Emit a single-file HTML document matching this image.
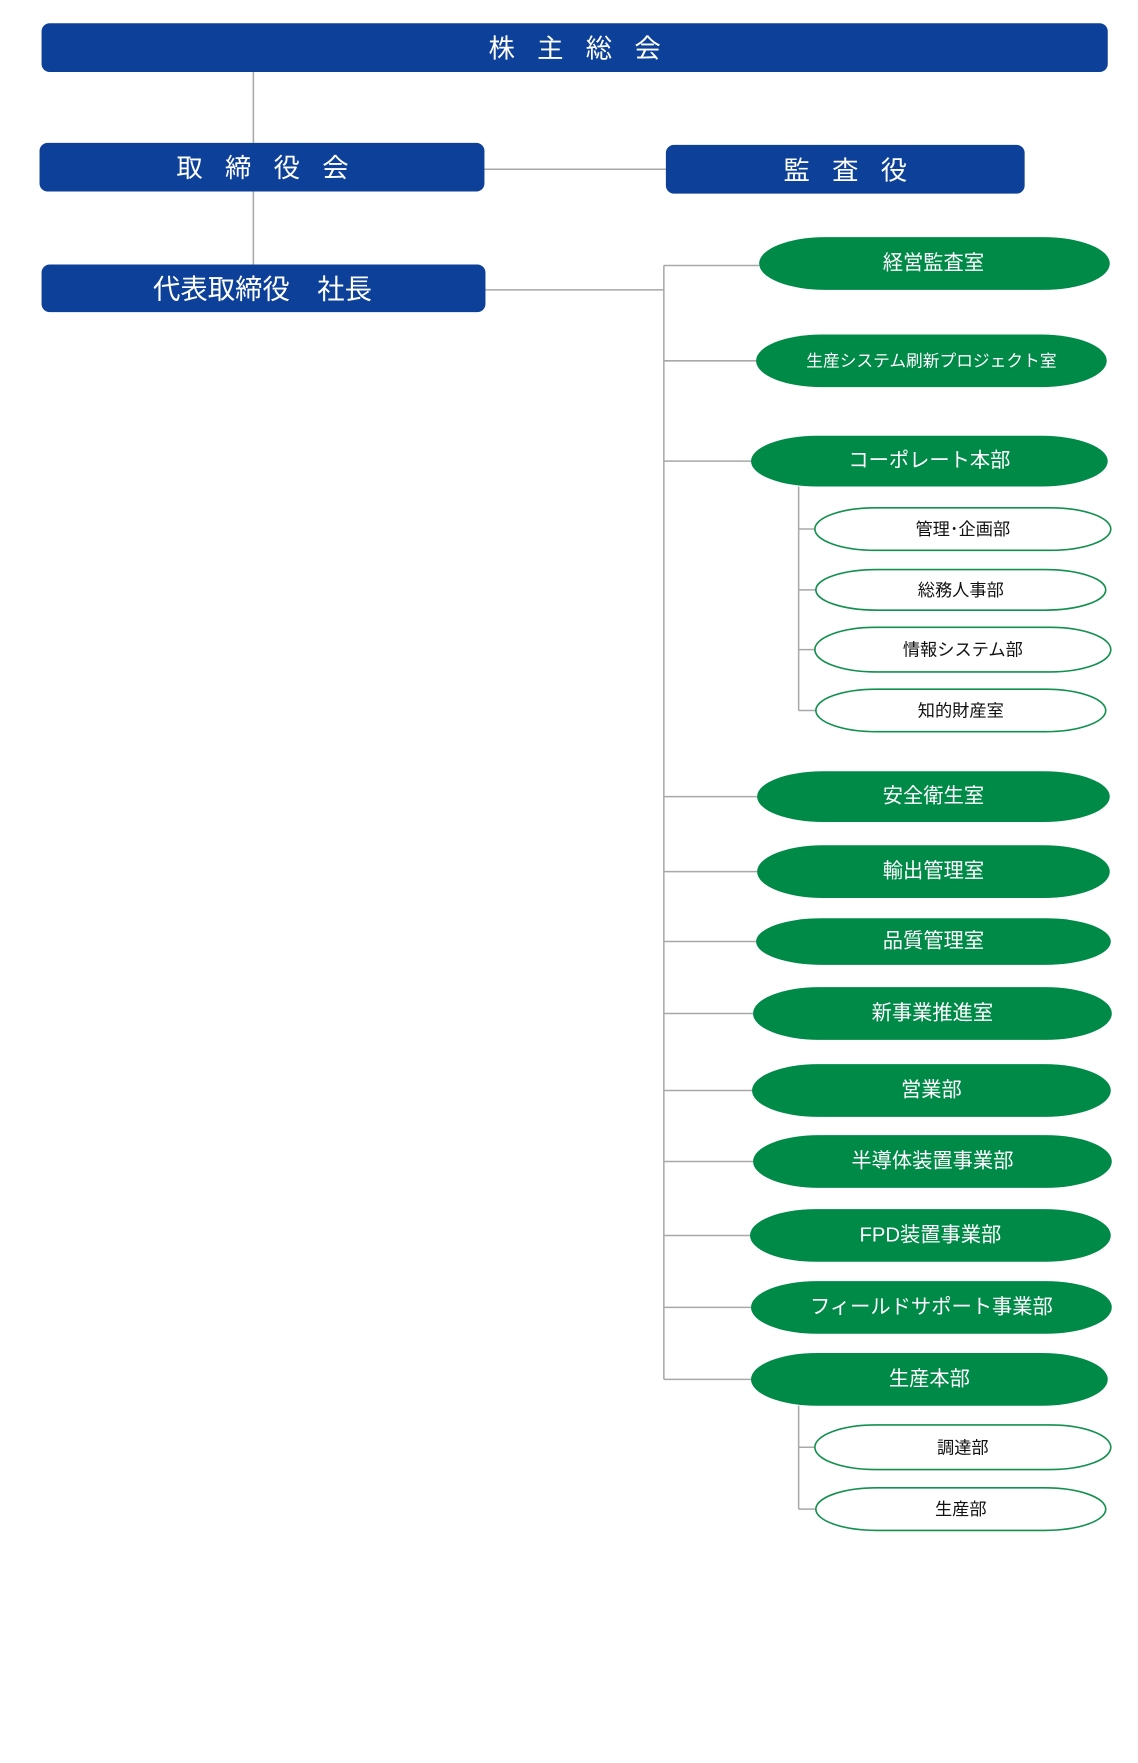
<!DOCTYPE html>
<html><head><meta charset="utf-8"><style>
html,body{margin:0;padding:0;background:#fff;}
svg{display:block;}
text{font-family:"Liberation Sans","Noto Sans CJK JP",sans-serif;text-anchor:middle;dominant-baseline:central;}
.b{fill:#0d4098;}
.g{fill:#008a48;}
.s{fill:#fff;stroke:#13904f;stroke-width:1.6;}
.wt{fill:#fff;}
.gt{fill:#fff;font-size:20px;}
.st{fill:#111;font-size:17px;}
.ln{stroke:#a8a8a8;stroke-width:1.5;fill:none;}
</style></head><body>
<svg width="1138" height="1763" viewBox="0 0 1138 1763" xmlns="http://www.w3.org/2000/svg">
<g transform="scale(1.0135)">
<path class="ln" d="M250 71V141M250 189V261M478 167H657M479 286H655M655 262V1361"/>
<path class="ln" d="M655 262H749M655 356H747M655 455H741M655 786H747M655 860H747M655 929H747M655 1000H743M655 1076H742M655 1146H743M655 1219H740M655 1290H741M655 1361H741"/>
<path class="ln" d="M788 480V701M788 522H804M788 582H806M788 641H804M788 701H806"/>
<path class="ln" d="M788 1387V1489M788 1428H804M788 1489H806"/>
<rect class="b" x="41" y="23" width="1052" height="48" rx="8"/>
<text class="wt" x="578" y="48" font-size="26" letter-spacing="22">株主総会</text>
<rect class="b" x="39" y="141" width="439" height="48" rx="8"/>
<text class="wt" x="270" y="166" font-size="26" letter-spacing="22">取締役会</text>
<rect class="b" x="657" y="143" width="354" height="48" rx="8"/>
<text class="wt" x="845" y="168" font-size="26" letter-spacing="22">監査役</text>
<rect class="b" x="41" y="261" width="438" height="47" rx="8"/>
<text class="wt" x="259" y="285" font-size="27">代表取締役　社長</text>
<rect class="g" x="749" y="234" width="346" height="52" rx="65" ry="26"/><text class="gt" x="921" y="260">経営監査室</text>
<rect class="g" x="746" y="330" width="346" height="52" rx="65" ry="26"/><text class="gt" x="919" y="356" style="font-size:16.5px">生産システム刷新プロジェクト室</text>
<rect class="g" x="741" y="430" width="352" height="50" rx="65" ry="25"/><text class="gt" x="917" y="455">コーポレート本部</text>
<rect class="s" x="804" y="501" width="292" height="42" rx="60" ry="21"/><text class="st" x="950" y="522">管理･企画部</text>
<rect class="s" x="805" y="562" width="286" height="40" rx="60" ry="20"/><text class="st" x="948" y="582">総務人事部</text>
<rect class="s" x="804" y="619" width="292" height="44" rx="60" ry="22"/><text class="st" x="950" y="641">情報システム部</text>
<rect class="s" x="805" y="680" width="286" height="42" rx="60" ry="21"/><text class="st" x="948" y="701">知的財産室</text>
<rect class="g" x="747" y="761" width="348" height="50" rx="65" ry="25"/><text class="gt" x="921" y="786">安全衛生室</text>
<rect class="g" x="747" y="834" width="348" height="52" rx="65" ry="26"/><text class="gt" x="921" y="860">輸出管理室</text>
<rect class="g" x="746" y="906" width="350" height="46" rx="65" ry="23"/><text class="gt" x="921" y="929">品質管理室</text>
<rect class="g" x="743" y="974" width="354" height="52" rx="65" ry="26"/><text class="gt" x="920" y="1000">新事業推進室</text>
<rect class="g" x="742" y="1050" width="354" height="52" rx="65" ry="26"/><text class="gt" x="919" y="1076">営業部</text>
<rect class="g" x="743" y="1120" width="354" height="52" rx="65" ry="26"/><text class="gt" x="920" y="1146">半導体装置事業部</text>
<rect class="g" x="740" y="1193" width="356" height="52" rx="65" ry="26"/><text class="gt" x="918" y="1219">FPD装置事業部</text>
<rect class="g" x="741" y="1264" width="356" height="52" rx="65" ry="26"/><text class="gt" x="919" y="1290">フィールドサポート事業部</text>
<rect class="g" x="741" y="1335" width="352" height="52" rx="65" ry="26"/><text class="gt" x="917" y="1361">生産本部</text>
<rect class="s" x="804" y="1406" width="292" height="44" rx="60" ry="22"/><text class="st" x="950" y="1428">調達部</text>
<rect class="s" x="805" y="1468" width="286" height="42" rx="60" ry="21"/><text class="st" x="948" y="1489">生産部</text>
</g>
</svg>
</body></html>
